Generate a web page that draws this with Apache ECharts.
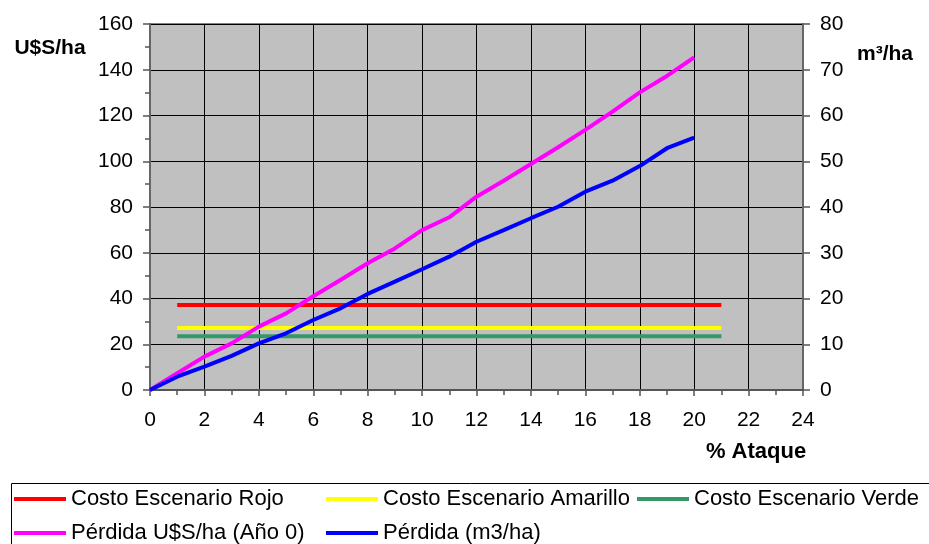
<!DOCTYPE html>
<html>
<head>
<meta charset="utf-8">
<script src="https://cdn.jsdelivr.net/npm/echarts@6/dist/echarts.min.js"></script>
<style>
  html, body { margin: 0; padding: 0; background: #ffffff; }
  #chart { width: 929px; height: 544px; }
</style>
</head>
<body>
<div id="chart"></div>
<script>
// % de ataque (eje X)
const attackPct = [0, 1, 2, 3, 4, 5, 6, 7, 8, 9, 10, 11, 12, 13, 14, 15, 16, 17, 18, 19, 20];
// Pérdida en U$S/ha (Año 0) – eje izquierdo
const lossUsd = [0, 7.3, 14.6, 20.4, 27.7, 33.5, 41.0, 48.1, 55.4, 61.9, 69.9, 75.5, 84.5, 91.5, 98.8, 106.1, 113.7, 121.7, 130.1, 137.3, 145.4];
// Pérdida en m3/ha – eje derecho
const lossM3 = [0, 2.9, 5.1, 7.45, 10.2, 12.4, 15.3, 17.85, 21.0, 23.7, 26.4, 29.15, 32.4, 34.95, 37.55, 40.05, 43.35, 45.75, 48.95, 52.85, 55.15];
// Costo de cada escenario (U$S/ha) y tramo de % ataque que cubre
const costRange = [1, 21];
const costRojo = 37.2;
const costAmarillo = 27.1;
const costVerde = 23.5;
// Nombres de las series
const names = ['Costo Escenario Rojo', 'Costo Escenario Amarillo', 'Costo Escenario Verde', 'Pérdida U$S/ha (Año 0)', 'Pérdida (m3/ha)'];
const colors = ['#ff0000', '#ffff00', '#339966', '#ff00ff', '#0000ff'];

const FONT = 'Liberation Sans, Arial, sans-serif';
const pair = (xs, ys) => xs.map((x, i) => [x, ys[i]]);
const flat = (v) => costRange.map(x => [x, v]);

const lineSeries = (i, data, yIdx) => ({
  name: names[i],
  type: 'line',
  yAxisIndex: yIdx,
  data: data,
  symbol: 'none',
  smooth: false,
  animation: false,
  lineStyle: { color: colors[i], width: 4 },
  itemStyle: { color: colors[i] },
  z: 2 + i
});

// Una leyenda por elemento para fijar las columnas
const legendAt = (i, left, top) => ({
  data: [{ name: names[i], icon: 'rect' }],
  left: left,
  top: top,
  padding: 0,
  itemWidth: 52,
  itemHeight: 4,
  itemStyle: { color: colors[i], borderWidth: 0 },
  textStyle: { fontFamily: FONT, fontSize: 22, color: '#000', lineHeight: 24 },
  selectedMode: false
});

const chart = echarts.init(document.getElementById('chart'), null, { renderer: 'canvas' });
chart.setOption({
  backgroundColor: '#ffffff',
  animation: false,
  grid: {
    left: 150, right: 126, top: 24, bottom: 154,
    show: true, backgroundColor: '#c0c0c0', borderColor: '#808080', borderWidth: 2
  },
  xAxis: {
    type: 'value', min: 0, max: 24, interval: 2,
    axisLine: { show: true, onZero: false, lineStyle: { color: '#555', width: 2 } },
    axisTick: { show: true, length: 6, lineStyle: { color: '#555', width: 1.5 } },
    minorTick: { show: true, splitNumber: 2, length: 5, lineStyle: { color: '#555', width: 1.5 } },
    axisLabel: { fontFamily: FONT, fontSize: 21, color: '#000', margin: 20 },
    splitLine: { show: true, lineStyle: { color: '#000', width: 1 } }
  },
  yAxis: [
    {
      type: 'value', min: 0, max: 160, interval: 20, position: 'left',
      axisLine: { show: true, lineStyle: { color: '#666', width: 2 } },
      axisTick: { show: true, length: 7, lineStyle: { color: '#555', width: 1.5 } },
      minorTick: { show: true, splitNumber: 2, length: 5, lineStyle: { color: '#555', width: 1.5 } },
      axisLabel: { fontFamily: FONT, fontSize: 21, color: '#000', margin: 17 },
      splitLine: { show: true, lineStyle: { color: '#000', width: 1 } }
    },
    {
      type: 'value', min: 0, max: 80, interval: 10, position: 'right',
      axisLine: { show: true, lineStyle: { color: '#666', width: 2 } },
      axisTick: { show: true, length: 7, lineStyle: { color: '#555', width: 1.5 } },
      axisLabel: { fontFamily: FONT, fontSize: 21, color: '#000', margin: 17 },
      splitLine: { show: false }
    }
  ],
  legend: [
    legendAt(0, 14, 487),
    legendAt(1, 326, 487),
    legendAt(2, 637, 487),
    legendAt(3, 14, 521),
    legendAt(4, 326, 521)
  ],
  graphic: [
    {
      type: 'rect', left: 9, top: 481, silent: true,
      shape: { x: 0.5, y: 0.5, width: 918.5, height: 80 },
      style: { fill: 'none', stroke: '#000', lineWidth: 1 }
    },
    {
      type: 'text', x: 50, y: 48,
      style: { text: 'U$S/ha', font: 'bold 21px ' + FONT, fill: '#000', textAlign: 'center', textVerticalAlign: 'middle' }
    },
    {
      type: 'text', x: 885, y: 54,
      style: { text: 'm³/ha', font: 'bold 21px ' + FONT, fill: '#000', textAlign: 'center', textVerticalAlign: 'middle' }
    },
    {
      type: 'text', x: 756, y: 452,
      style: { text: '% Ataque', font: 'bold 22px ' + FONT, fill: '#000', textAlign: 'center', textVerticalAlign: 'middle' }
    }
  ],
  series: [
    lineSeries(0, flat(costRojo), 0),
    lineSeries(1, flat(costAmarillo), 0),
    lineSeries(2, flat(costVerde), 0),
    lineSeries(3, pair(attackPct, lossUsd), 0),
    lineSeries(4, pair(attackPct, lossM3), 1)
  ]
});
</script>
</body>
</html>
